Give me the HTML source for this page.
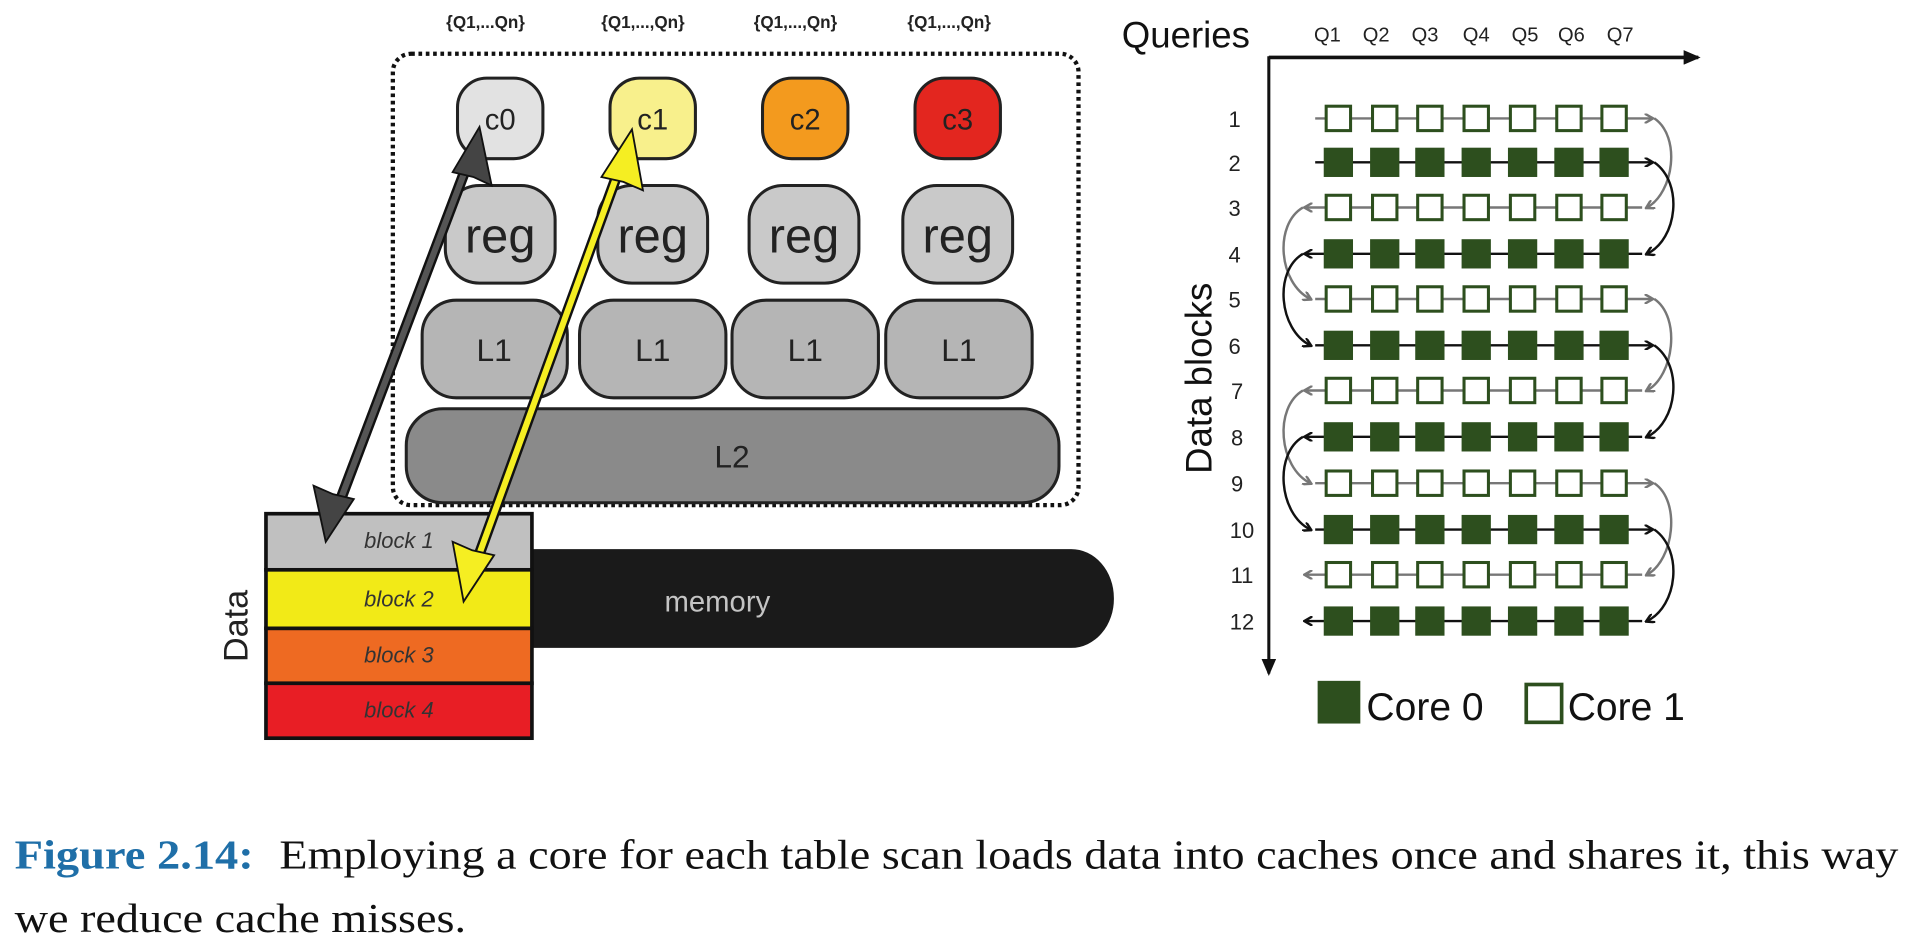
<!DOCTYPE html>
<html><head><meta charset="utf-8"><style>
html,body{margin:0;padding:0;background:#fff;width:1913px;height:942px;overflow:hidden}
svg{display:block}
</style></head><body>
<svg width="1913" height="942" viewBox="0 0 1568 772" xmlns="http://www.w3.org/2000/svg" font-family="Liberation Sans, sans-serif">
<defs>
<marker id="ag" markerWidth="8" markerHeight="8" refX="6" refY="4" orient="auto" markerUnits="userSpaceOnUse"><path d="M0,0 L7,4 L0,8" fill="none" stroke="#777" stroke-width="2"/></marker>
<marker id="ab" markerWidth="8" markerHeight="8" refX="6" refY="4" orient="auto" markerUnits="userSpaceOnUse"><path d="M0,0 L7,4 L0,8" fill="none" stroke="#111" stroke-width="2"/></marker>
<marker id="ax" markerWidth="14" markerHeight="12" refX="12" refY="6" orient="auto" markerUnits="userSpaceOnUse"><path d="M0,0 L14,6 L0,12 z" fill="#111"/></marker>
</defs>

<g font-size="14" font-weight="bold" fill="#222" text-anchor="middle">
<text x="398" y="23">{Q1,...Qn}</text><text x="527" y="23">{Q1,...,Qn}</text><text x="652" y="23">{Q1,...,Qn}</text><text x="778" y="23">{Q1,...,Qn}</text>
</g>
<path d="M430,450 H878 a35,40 0 0 1 35,40 a35,40 0 0 1 -35,41 H430 z" fill="#1a1a1a"/>
<text x="588" y="501" font-size="24" fill="#c4c4c4" text-anchor="middle">memory</text>

<rect x="322" y="44" width="562" height="370" rx="15" fill="none" stroke="#111" stroke-width="3.5" stroke-dasharray="3,3"/>

<g stroke="#222" stroke-width="2.5">
<rect x="375" y="64" width="70" height="66" rx="24" fill="#e2e2e2"/>
<rect x="500" y="64" width="70" height="66" rx="24" fill="#f8f08c"/>
<rect x="625" y="64" width="70" height="66" rx="24" fill="#f39a1e"/>
<rect x="750" y="64" width="70" height="66" rx="24" fill="#e3261f"/>
<rect x="365" y="152" width="90" height="80" rx="28" fill="#c9c9c9"/>
<rect x="490" y="152" width="90" height="80" rx="28" fill="#c9c9c9"/>
<rect x="614" y="152" width="90" height="80" rx="28" fill="#c9c9c9"/>
<rect x="740" y="152" width="90" height="80" rx="28" fill="#c9c9c9"/>
<rect x="346" y="246" width="119" height="80" rx="28" fill="#b5b5b5"/>
<rect x="475" y="246" width="120" height="80" rx="28" fill="#b5b5b5"/>
<rect x="600" y="246" width="120" height="80" rx="28" fill="#b5b5b5"/>
<rect x="726" y="246" width="120" height="80" rx="28" fill="#b5b5b5"/>
<rect x="333" y="335" width="535" height="77" rx="30" fill="#8a8a8a"/>
</g>
<g fill="#222" text-anchor="middle">
<g font-size="24"><text x="410" y="106">c0</text><text x="535" y="106">c1</text><text x="660" y="106">c2</text><text x="785" y="106">c3</text></g>
<g font-size="40"><text x="410" y="207">reg</text><text x="535" y="207">reg</text><text x="659" y="207">reg</text><text x="785" y="207">reg</text></g>
<g font-size="26"><text x="405" y="296">L1</text><text x="535" y="296">L1</text><text x="660" y="296">L1</text><text x="786" y="296">L1</text></g>
<text x="600" y="383" font-size="26">L2</text>
</g>

<g stroke="#111" stroke-width="3">
<rect x="218" y="421" width="218" height="46" fill="#c0c0c0"/>
<rect x="218" y="467" width="218" height="48" fill="#f2ea17"/>
<rect x="218" y="515" width="218" height="45" fill="#ee6a22"/>
<rect x="218" y="560" width="218" height="45" fill="#e81e25"/>
</g>
<g font-size="18" font-style="italic" fill="#333" text-anchor="middle">
<text x="327" y="449">block 1</text><text x="327" y="497">block  2</text><text x="327" y="543">block  3</text><text x="327" y="588">block  4</text>
</g>
<text transform="translate(203,513) rotate(-90)" font-size="28" fill="#222" text-anchor="middle">Data</text>

<g>
<line x1="383" y1="135" x2="277" y2="415" stroke="#111" stroke-width="9"/>
<line x1="383" y1="135" x2="277" y2="415" stroke="#555" stroke-width="5"/>
<path d="M393,104 L403,152 L388,145 L371,141 z" fill="#444" stroke="#111" stroke-width="1.5"/>
<path d="M267,444 L257,398 L273,405 L290,409 z" fill="#444" stroke="#111" stroke-width="1.5"/>
</g>
<g>
<line x1="507" y1="140" x2="390" y2="462" stroke="#111" stroke-width="9"/>
<line x1="507" y1="140" x2="390" y2="462" stroke="#f5ee22" stroke-width="5"/>
<path d="M518,106 L527,156 L511,149 L493,145 z" fill="#f5ee22" stroke="#111" stroke-width="1.5"/>
<path d="M380,493 L371,444 L387,451 L405,455 z" fill="#f5ee22" stroke="#111" stroke-width="1.5"/>
</g>

<text x="972" y="39" font-size="30" fill="#111" text-anchor="middle">Queries</text>
<g font-size="17" fill="#222" text-anchor="middle">
<text x="1088" y="34" textLength="22" lengthAdjust="spacingAndGlyphs">Q1</text><text x="1128" y="34" textLength="22" lengthAdjust="spacingAndGlyphs">Q2</text><text x="1168" y="34" textLength="22" lengthAdjust="spacingAndGlyphs">Q3</text><text x="1210" y="34" textLength="22" lengthAdjust="spacingAndGlyphs">Q4</text><text x="1250" y="34" textLength="22" lengthAdjust="spacingAndGlyphs">Q5</text><text x="1288" y="34" textLength="22" lengthAdjust="spacingAndGlyphs">Q6</text><text x="1328" y="34" textLength="22" lengthAdjust="spacingAndGlyphs">Q7</text>
</g>
<line x1="1040" y1="47" x2="1392" y2="47" stroke="#111" stroke-width="3" marker-end="url(#ax)"/>
<line x1="1040" y1="46" x2="1040" y2="552" stroke="#111" stroke-width="2.5" marker-end="url(#ax)"/>
<text transform="translate(993,310) rotate(-90)" font-size="30" fill="#111" text-anchor="middle">Data blocks</text>
<g font-size="18" fill="#222" text-anchor="middle">
<text x="1012" y="104">1</text><text x="1012" y="140">2</text><text x="1012" y="177">3</text><text x="1012" y="215">4</text><text x="1012" y="252">5</text><text x="1012" y="290">6</text><text x="1014" y="327">7</text><text x="1014" y="365">8</text><text x="1014" y="403">9</text><text x="1018" y="441">10</text><text x="1018" y="478">11</text><text x="1018" y="516">12</text>
</g>

<g>
<line x1="1078" y1="97" x2="1354" y2="97" stroke="#777" stroke-width="2" marker-end="url(#ag)"/>
<line x1="1078" y1="133" x2="1354" y2="133" stroke="#111" stroke-width="2" marker-end="url(#ab)"/>
<line x1="1346" y1="170" x2="1070" y2="170" stroke="#777" stroke-width="2" marker-end="url(#ag)"/>
<line x1="1346" y1="208" x2="1070" y2="208" stroke="#111" stroke-width="2" marker-end="url(#ab)"/>
<line x1="1078" y1="245" x2="1354" y2="245" stroke="#777" stroke-width="2" marker-end="url(#ag)"/>
<line x1="1078" y1="283" x2="1354" y2="283" stroke="#111" stroke-width="2" marker-end="url(#ab)"/>
<line x1="1346" y1="320" x2="1070" y2="320" stroke="#777" stroke-width="2" marker-end="url(#ag)"/>
<line x1="1346" y1="358" x2="1070" y2="358" stroke="#111" stroke-width="2" marker-end="url(#ab)"/>
<line x1="1078" y1="396" x2="1354" y2="396" stroke="#777" stroke-width="2" marker-end="url(#ag)"/>
<line x1="1078" y1="434" x2="1354" y2="434" stroke="#111" stroke-width="2" marker-end="url(#ab)"/>
<line x1="1346" y1="471" x2="1070" y2="471" stroke="#777" stroke-width="2" marker-end="url(#ag)"/>
<line x1="1346" y1="509" x2="1070" y2="509" stroke="#111" stroke-width="2" marker-end="url(#ab)"/>
</g>
<g fill="none" stroke-width="2">
<path d="M1356,97 C1378,112 1372,158 1350,170" stroke="#777" marker-end="url(#ag)"/>
<path d="M1356,133 C1380,150 1375,196 1350,208" stroke="#111" marker-end="url(#ab)"/>
<path d="M1068,170 C1044,184 1048,232 1074,245" stroke="#777" marker-end="url(#ag)"/>
<path d="M1068,208 C1044,222 1048,270 1074,283" stroke="#111" marker-end="url(#ab)"/>
<path d="M1356,245 C1378,260 1372,308 1350,320" stroke="#777" marker-end="url(#ag)"/>
<path d="M1356,283 C1380,300 1375,346 1350,358" stroke="#111" marker-end="url(#ab)"/>
<path d="M1068,320 C1044,334 1048,383 1074,396" stroke="#777" marker-end="url(#ag)"/>
<path d="M1068,358 C1044,372 1048,421 1074,434" stroke="#111" marker-end="url(#ab)"/>
<path d="M1356,396 C1378,411 1372,459 1350,471" stroke="#777" marker-end="url(#ag)"/>
<path d="M1356,434 C1380,451 1375,497 1350,509" stroke="#111" marker-end="url(#ab)"/>
</g>
<g fill="#fff" stroke="#2d4f1e" stroke-width="2.5">
<g id="open">
<rect x="1087" y="87" width="20" height="20"/><rect x="1125" y="87" width="20" height="20"/><rect x="1162" y="87" width="20" height="20"/><rect x="1200" y="87" width="20" height="20"/><rect x="1238" y="87" width="20" height="20"/><rect x="1276" y="87" width="20" height="20"/><rect x="1313" y="87" width="20" height="20"/>
</g>
<use href="#open" y="73"/><use href="#open" y="148"/><use href="#open" y="223"/><use href="#open" y="299"/><use href="#open" y="374"/>
</g>
<g fill="#2d4f1e">
<g id="fill">
<rect x="1085" y="121" width="24" height="24"/><rect x="1123" y="121" width="24" height="24"/><rect x="1160" y="121" width="24" height="24"/><rect x="1198" y="121" width="24" height="24"/><rect x="1236" y="121" width="24" height="24"/><rect x="1274" y="121" width="24" height="24"/><rect x="1311" y="121" width="24" height="24"/>
</g>
<use href="#fill" y="75"/><use href="#fill" y="150"/><use href="#fill" y="225"/><use href="#fill" y="301"/><use href="#fill" y="376"/>
</g>
<rect x="1080" y="558" width="35" height="35" fill="#2d4f1e"/>
<text x="1120" y="590" font-size="32" fill="#111">Core 0</text>
<rect x="1251" y="561" width="29" height="31" fill="#fff" stroke="#2d4f1e" stroke-width="3"/>
<text x="1285" y="590" font-size="32" fill="#111">Core 1</text>

<g font-family="Liberation Serif, serif" font-size="34">
<text x="12" y="712" fill="#1f6fa8" font-weight="bold" textLength="196" lengthAdjust="spacingAndGlyphs">Figure 2.14:</text>
<text x="229" y="712" fill="#111" textLength="1327" lengthAdjust="spacingAndGlyphs">Employing a core for each table scan loads data into caches once and shares it, this way</text>
<text x="12" y="764" fill="#111" textLength="370" lengthAdjust="spacingAndGlyphs">we reduce cache misses.</text>
</g>
</svg>
</body></html>
